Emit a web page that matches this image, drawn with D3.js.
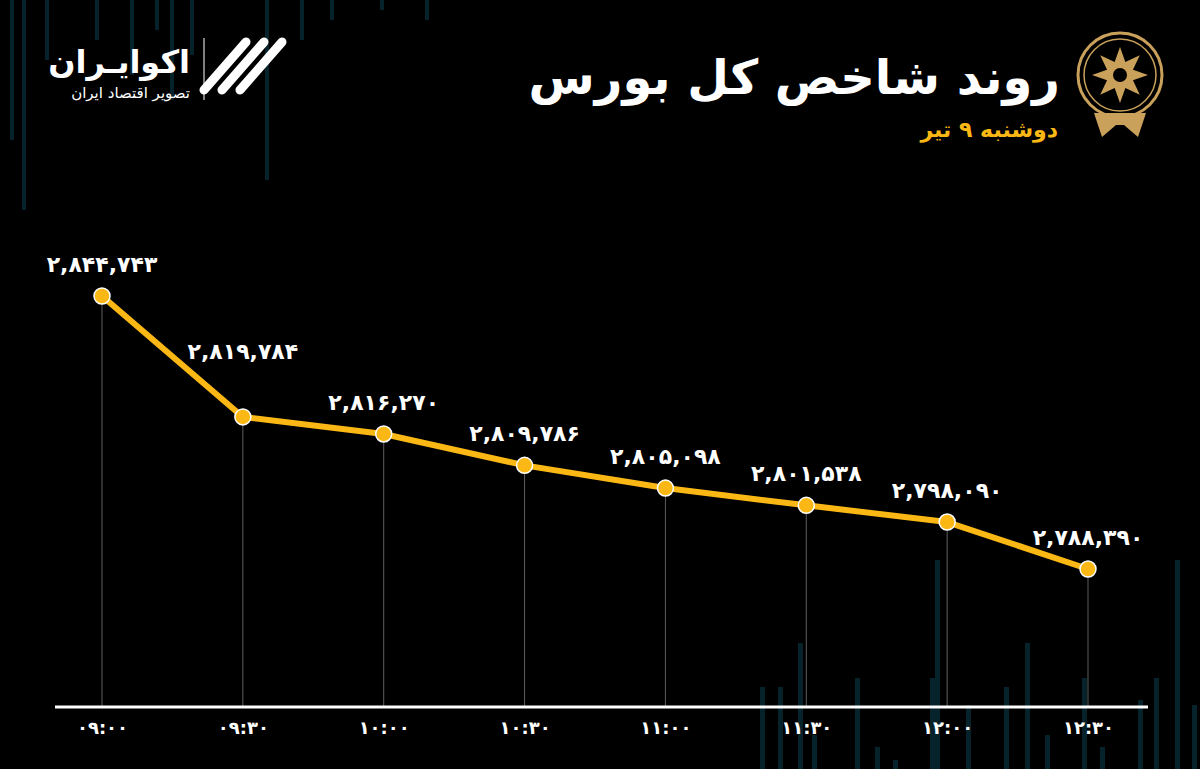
<!DOCTYPE html>
<html><head><meta charset="utf-8">
<script src="https://cdn.jsdelivr.net/npm/d3@7"></script>
<style>body{margin:0;background:#000}svg{display:block}</style>
</head><body><svg id="c" width="1200" height="769"></svg>
<script>
const times = ["۰۹:۰۰","۰۹:۳۰","۱۰:۰۰","۱۰:۳۰","۱۱:۰۰","۱۱:۳۰","۱۲:۰۰","۱۲:۳۰"];
const values = [2844743,2819784,2816270,2809786,2805098,2801538,2798090,2788390];
const title = "روند شاخص کل بورس";
const subtitle = "دوشنبه ۹ تیر";

const svg = d3.select("#c");
svg.append("rect").attr("width",1200).attr("height",769).attr("fill","#000");
const deco = svg.append("g").attr("fill","#06222b");
[[10,0,4,140],[22,0,4,210],[45,0,4,60],[95,0,4,40],[130,0,4,75],[155,0,4,30],[170,0,4,100],[190,0,4,55],[265,0,4,180],[300,0,4,40],[330,0,4,20],[380,0,4,10],[425,0,4,20]].forEach(d=>deco.append("rect").attr("x",d[0]).attr("y",d[1]).attr("width",d[2]).attr("height",d[3]));
[[760,687,5,82],[778,687,5,82],[798,643,5,126],[812,735,5,34],[855,678,5,91],[875,747,5,22],[893,760,5,9],[930,678,5,91],[935,560,5,209],[966,705,5,64],[1004,687,5,82],[1025,643,5,126],[1045,735,5,34],[1082,678,5,91],[1100,747,5,22],[1138,700,5,69],[1154,678,5,91],[1175,560,5,209],[1192,705,5,64]].forEach(d=>deco.append("rect").attr("x",d[0]).attr("y",d[1]).attr("width",d[2]).attr("height",d[3]));

const x = d3.scalePoint().domain(times).range([102,1088]);
const y = d3.scaleLinear().domain([2759913,2844743]).range([707,296]);

const font = "'DejaVu Sans', sans-serif";
svg.append("g").selectAll("line").data(values).join("line")
  .attr("x1",(d,i)=>x(times[i])).attr("x2",(d,i)=>x(times[i]))
  .attr("y1",d=>y(d)).attr("y2",y(2759913))
  .attr("stroke","#777").attr("stroke-width",0.8);
const ax = svg.append("g").attr("transform","translate(0,707)")
  .call(d3.axisBottom(x).tickSize(0).tickPadding(14));
ax.select(".domain").attr("stroke","#fff").attr("stroke-width",3).attr("d","M55,0H1148");
ax.selectAll("text").attr("fill","#fff").attr("font-family",font).attr("font-weight","bold").attr("font-size",18);

svg.append("path").datum(values)
  .attr("d",d3.line().x((d,i)=>x(times[i])).y(d=>y(d)))
  .attr("fill","none").attr("stroke","#fbb814").attr("stroke-width",6).attr("stroke-linejoin","round");
svg.append("g").selectAll("circle").data(values).join("circle")
  .attr("cx",(d,i)=>x(times[i])).attr("cy",d=>y(d)).attr("r",8)
  .attr("fill","#fbb814").attr("stroke","#fff").attr("stroke-width",1.5);
const fa = n => n.toLocaleString("en-US").replace(/\d/g,c=>"۰۱۲۳۴۵۶۷۸۹"[c]);
const lift = (d,i) => (i>0 && y(d)-y(values[i-1])>60) ? 58 : 24;
svg.append("g").selectAll("text").data(values).join("text")
  .attr("x",(d,i)=>x(times[i])).attr("y",(d,i)=>y(d)-lift(d,i))
  .attr("text-anchor","middle").attr("fill","#fff").attr("font-family",font)
  .attr("font-weight","bold").attr("font-size",22).text(d=>fa(d));

svg.append("text").attr("x",1060).attr("y",94).attr("text-anchor","start").attr("direction","rtl")
  .attr("fill","#fff").attr("font-family",font).attr("font-weight","bold").attr("font-size",48).text(title);
svg.append("text").attr("x",1058).attr("y",137).attr("text-anchor","start").attr("direction","rtl")
  .attr("fill","#fbb814").attr("font-family",font).attr("font-weight","bold").attr("font-size",22).text(subtitle);
const em = svg.append("g").attr("transform","translate(1120,75)");
em.append("circle").attr("r",42).attr("fill","none").attr("stroke","#c9a15a").attr("stroke-width",3);
em.append("circle").attr("r",36).attr("fill","none").attr("stroke","#c9a15a").attr("stroke-width",1.5);
em.append("path").attr("d",d3.range(16).map(i=>{const a=i*Math.PI/8,r=i%2?14:28;return (i?"L":"M")+(r*Math.sin(a))+","+(-r*Math.cos(a));}).join("")+"Z").attr("fill","#c9a15a");
em.append("circle").attr("r",7).attr("fill","#000");
em.append("path").attr("d","M-26,38 L-18,62 L-4,50 L4,50 L18,62 L26,38 Z").attr("fill","#c9a15a");
svg.append("text").attr("x",190).attr("y",73).attr("text-anchor","start").attr("direction","rtl")
  .attr("fill","#fff").attr("font-family",font).attr("font-weight","bold").attr("font-size",32).text("اکوایـران");
svg.append("text").attr("x",190).attr("y",98).attr("text-anchor","start").attr("direction","rtl")
  .attr("fill","#fff").attr("font-family",font).attr("font-size",15).text("تصویر اقتصاد ایران");
svg.append("line").attr("x1",204).attr("x2",204).attr("y1",38).attr("y2",100).attr("stroke","#fff");
const lg = svg.append("g").attr("transform","translate(250,68)");
[-18,0,18].forEach(o=>lg.append("path").attr("d",`M${-28+o},${22} L${14+o},${-26}`).attr("stroke","#fff").attr("stroke-width",9).attr("stroke-linecap","round"));
</script></body></html>
